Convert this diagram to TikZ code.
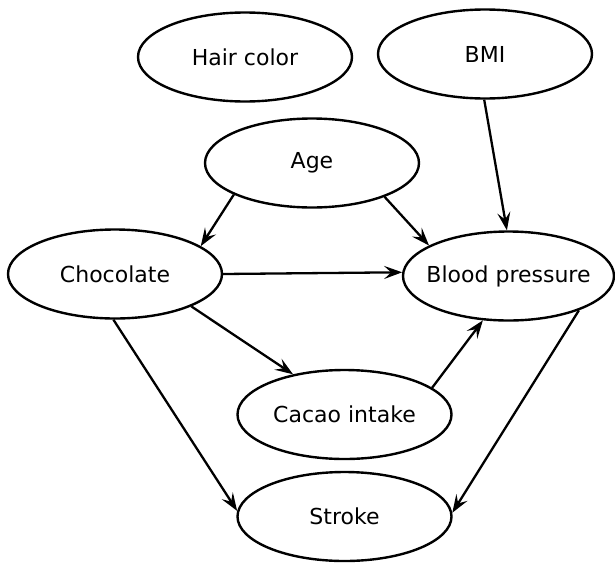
\documentclass[tikz,border=0pt]{standalone}
\usepackage{fontspec}
\setmainfont{DejaVu Sans}
\usetikzlibrary{shapes.geometric,arrows.meta}
\newcommand{\mytx}[1]{\makebox[0pt][c]{#1}}
\begin{document}
\begin{tikzpicture}[x=1pt,y=-1pt,
  var/.style={ellipse,draw,line width=2.4pt,minimum width=214pt,minimum height=89pt,inner sep=0pt,font=\fontsize{22}{26}\selectfont},
  edge/.style={line width=2.3pt,-{Stealth[length=18pt,width=13pt,inset=7pt]}}]
\useasboundingbox (0,0) rectangle (615,562);
\node[var] (hair) at (245,57) {\mytx{Hair color}};
\node[var] (bmi) at (485,54) {\mytx{BMI}};
\node[var] (age) at (312,163) {\mytx{Age}};
\node[var] (choc) at (115,274) {\mytx{Chocolate}};
\node[var,minimum width=211pt] (bp) at (508.5,276) {\mytx{Blood pressure}};
\node[var] (cacao) at (344.5,414.5) {\mytx{Cacao intake}};
\node[var] (stroke) at (344.5,516.5) {\mytx{Stroke}};
\draw[edge] (bmi.-91) -- (bp.92);
\draw[edge] (age.202) -- (choc.18);
\draw[edge] (age.-25) -- (bp.159);
\draw[edge] (choc.0) -- (bp.178);
\draw[edge] (choc.-23) -- (cacao.142);
\draw[edge] (choc.-92) -- (stroke.177);
\draw[edge] (cacao.17) -- (bp.-120);
\draw[edge] (bp.-26) -- (stroke.2);
\end{tikzpicture}
\end{document}
